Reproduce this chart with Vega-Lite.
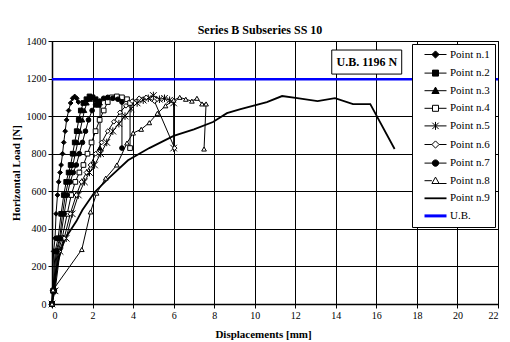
{
  "$schema": "https://vega.github.io/schema/vega-lite/v6.json",
  "width": 446,
  "height": 263,
  "autosize": {"type": "none"},
  "padding": {"left": 52, "top": 41, "right": 12, "bottom": 38},
  "background": "white",
  "title": {"text": "Series B Subseries SS 10", "font": "Liberation Serif", "fontSize": 12, "fontWeight": "bold", "color": "black", "offset": 6, "dy": 7, "dx": -15},
  "config": {
    "view": {"stroke": "black", "strokeWidth": 1},
    "axis": {"gridColor": "black", "gridOpacity": 1, "gridWidth": 1, "domainColor": "black", "domainWidth": 1.5, "tickColor": "black", "tickSize": 4, "labelColor": "black", "labelFont": "Liberation Serif", "labelFontSize": 10, "labelOverlap": false, "titleFont": "Liberation Serif", "titleFontSize": 11, "titleFontWeight": "bold", "titleColor": "black"},
    "legend": {
      "orient": "top-right", "offset": 3, "fillColor": "white", "strokeColor": "black", "padding": 5,
      "labelFont": "Liberation Serif", "labelFontSize": 11, "labelColor": "black",
      "symbolSize": 64, "rowPadding": 5.6, "symbolOffset": 13, "labelOffset": 9
    }
  },
  "data": {"values": [
    {"s":"Point n.1","i":0,"x":0,"y":0},{"s":"Point n.1","i":1,"x":0.02,"y":70},{"s":"Point n.1","i":2,"x":0.08,"y":280},{"s":"Point n.1","i":3,"x":0.15,"y":350},{"s":"Point n.1","i":4,"x":0.2,"y":480},{"s":"Point n.1","i":5,"x":0.27,"y":580},{"s":"Point n.1","i":6,"x":0.33,"y":650},{"s":"Point n.1","i":7,"x":0.4,"y":700},{"s":"Point n.1","i":8,"x":0.45,"y":740},{"s":"Point n.1","i":9,"x":0.52,"y":800},{"s":"Point n.1","i":10,"x":0.58,"y":860},{"s":"Point n.1","i":11,"x":0.65,"y":920},{"s":"Point n.1","i":12,"x":0.72,"y":980},{"s":"Point n.1","i":13,"x":0.82,"y":1030},{"s":"Point n.1","i":14,"x":0.92,"y":1070},{"s":"Point n.1","i":15,"x":1.02,"y":1095},{"s":"Point n.1","i":16,"x":1.12,"y":1105},{"s":"Point n.1","i":17,"x":1.22,"y":1095},{"s":"Point n.1","i":18,"x":1.3,"y":1075},
    {"s":"Point n.2","i":0,"x":0,"y":0},{"s":"Point n.2","i":1,"x":0.05,"y":70},{"s":"Point n.2","i":2,"x":0.15,"y":280},{"s":"Point n.2","i":3,"x":0.3,"y":350},{"s":"Point n.2","i":4,"x":0.45,"y":480},{"s":"Point n.2","i":5,"x":0.58,"y":580},{"s":"Point n.2","i":6,"x":0.7,"y":650},{"s":"Point n.2","i":7,"x":0.82,"y":700},{"s":"Point n.2","i":8,"x":0.92,"y":740},{"s":"Point n.2","i":9,"x":1.02,"y":800},{"s":"Point n.2","i":10,"x":1.12,"y":860},{"s":"Point n.2","i":11,"x":1.22,"y":920},{"s":"Point n.2","i":12,"x":1.32,"y":980},{"s":"Point n.2","i":13,"x":1.42,"y":1030},{"s":"Point n.2","i":14,"x":1.55,"y":1070},{"s":"Point n.2","i":15,"x":1.7,"y":1090},{"s":"Point n.2","i":16,"x":1.85,"y":1105},{"s":"Point n.2","i":17,"x":2.0,"y":1100},{"s":"Point n.2","i":18,"x":2.15,"y":1090},{"s":"Point n.2","i":19,"x":2.3,"y":1060},
    {"s":"Point n.3","i":0,"x":0,"y":0},{"s":"Point n.3","i":1,"x":0.07,"y":70},{"s":"Point n.3","i":2,"x":0.2,"y":280},{"s":"Point n.3","i":3,"x":0.38,"y":350},{"s":"Point n.3","i":4,"x":0.52,"y":480},{"s":"Point n.3","i":5,"x":0.66,"y":580},{"s":"Point n.3","i":6,"x":0.8,"y":650},{"s":"Point n.3","i":7,"x":0.92,"y":700},{"s":"Point n.3","i":8,"x":1.03,"y":740},{"s":"Point n.3","i":9,"x":1.15,"y":800},{"s":"Point n.3","i":10,"x":1.27,"y":860},{"s":"Point n.3","i":11,"x":1.38,"y":920},{"s":"Point n.3","i":12,"x":1.5,"y":980},{"s":"Point n.3","i":13,"x":1.6,"y":1030},{"s":"Point n.3","i":14,"x":1.72,"y":1070},{"s":"Point n.3","i":15,"x":1.88,"y":1090},{"s":"Point n.3","i":16,"x":2.05,"y":1100},{"s":"Point n.3","i":17,"x":2.2,"y":1085},{"s":"Point n.3","i":18,"x":2.37,"y":1070},{"s":"Point n.3","i":19,"x":2.37,"y":830},
    {"s":"Point n.4","i":0,"x":0,"y":0},{"s":"Point n.4","i":1,"x":0.1,"y":70},{"s":"Point n.4","i":2,"x":0.3,"y":280},{"s":"Point n.4","i":3,"x":0.5,"y":350},{"s":"Point n.4","i":4,"x":0.75,"y":480},{"s":"Point n.4","i":5,"x":0.95,"y":580},{"s":"Point n.4","i":6,"x":1.15,"y":650},{"s":"Point n.4","i":7,"x":1.35,"y":700},{"s":"Point n.4","i":8,"x":1.55,"y":740},{"s":"Point n.4","i":9,"x":1.75,"y":800},{"s":"Point n.4","i":10,"x":1.95,"y":860},{"s":"Point n.4","i":11,"x":2.15,"y":920},{"s":"Point n.4","i":12,"x":2.35,"y":980},{"s":"Point n.4","i":13,"x":2.55,"y":1030},{"s":"Point n.4","i":14,"x":2.75,"y":1075},{"s":"Point n.4","i":15,"x":2.95,"y":1100},{"s":"Point n.4","i":16,"x":3.2,"y":1105},{"s":"Point n.4","i":17,"x":3.45,"y":1100},{"s":"Point n.4","i":18,"x":3.7,"y":1090},{"s":"Point n.4","i":19,"x":3.85,"y":1070},{"s":"Point n.4","i":20,"x":3.85,"y":830},
    {"s":"Point n.5","i":0,"x":0,"y":0},{"s":"Point n.5","i":1,"x":0.15,"y":70},{"s":"Point n.5","i":2,"x":0.4,"y":280},{"s":"Point n.5","i":3,"x":0.7,"y":350},{"s":"Point n.5","i":4,"x":1.0,"y":480},{"s":"Point n.5","i":5,"x":1.3,"y":580},{"s":"Point n.5","i":6,"x":1.6,"y":650},{"s":"Point n.5","i":7,"x":1.85,"y":700},{"s":"Point n.5","i":8,"x":2.1,"y":740},{"s":"Point n.5","i":9,"x":2.4,"y":800},{"s":"Point n.5","i":10,"x":2.7,"y":860},{"s":"Point n.5","i":11,"x":3.0,"y":920},{"s":"Point n.5","i":12,"x":3.3,"y":960},{"s":"Point n.5","i":13,"x":3.6,"y":1000},{"s":"Point n.5","i":14,"x":3.9,"y":1040},{"s":"Point n.5","i":15,"x":4.2,"y":1070},{"s":"Point n.5","i":16,"x":4.5,"y":1085},{"s":"Point n.5","i":17,"x":4.75,"y":1095},{"s":"Point n.5","i":18,"x":5.0,"y":1110},{"s":"Point n.5","i":19,"x":5.3,"y":1090},{"s":"Point n.5","i":20,"x":5.55,"y":1095},{"s":"Point n.5","i":21,"x":5.8,"y":1085},{"s":"Point n.5","i":22,"x":6.0,"y":1070},{"s":"Point n.5","i":23,"x":6.0,"y":830},
    {"s":"Point n.6","i":0,"x":0,"y":0},{"s":"Point n.6","i":1,"x":0.12,"y":70},{"s":"Point n.6","i":2,"x":0.35,"y":280},{"s":"Point n.6","i":3,"x":0.6,"y":350},{"s":"Point n.6","i":4,"x":0.9,"y":480},{"s":"Point n.6","i":5,"x":1.2,"y":580},{"s":"Point n.6","i":6,"x":1.45,"y":650},{"s":"Point n.6","i":7,"x":1.7,"y":700},{"s":"Point n.6","i":8,"x":1.9,"y":740},{"s":"Point n.6","i":9,"x":2.15,"y":800},{"s":"Point n.6","i":10,"x":2.45,"y":860},{"s":"Point n.6","i":11,"x":2.75,"y":920},{"s":"Point n.6","i":12,"x":3.05,"y":970},{"s":"Point n.6","i":13,"x":3.35,"y":1020},{"s":"Point n.6","i":14,"x":3.65,"y":1055},{"s":"Point n.6","i":15,"x":3.95,"y":1080},{"s":"Point n.6","i":16,"x":4.3,"y":1095},{"s":"Point n.6","i":17,"x":4.65,"y":1100},{"s":"Point n.6","i":18,"x":5.05,"y":1080},{"s":"Point n.6","i":19,"x":6.05,"y":830},
    {"s":"Point n.7","i":0,"x":0,"y":0},{"s":"Point n.7","i":1,"x":0.1,"y":70},{"s":"Point n.7","i":2,"x":0.25,"y":280},{"s":"Point n.7","i":3,"x":0.42,"y":350},{"s":"Point n.7","i":4,"x":0.6,"y":480},{"s":"Point n.7","i":5,"x":0.75,"y":580},{"s":"Point n.7","i":6,"x":0.9,"y":650},{"s":"Point n.7","i":7,"x":1.05,"y":700},{"s":"Point n.7","i":8,"x":1.2,"y":740},{"s":"Point n.7","i":9,"x":1.35,"y":800},{"s":"Point n.7","i":10,"x":1.5,"y":860},{"s":"Point n.7","i":11,"x":1.65,"y":920},{"s":"Point n.7","i":12,"x":1.8,"y":980},{"s":"Point n.7","i":13,"x":1.98,"y":1030},{"s":"Point n.7","i":14,"x":2.15,"y":1060},{"s":"Point n.7","i":15,"x":2.35,"y":1080},{"s":"Point n.7","i":16,"x":2.55,"y":1095},{"s":"Point n.7","i":17,"x":2.75,"y":1100},{"s":"Point n.7","i":18,"x":3.0,"y":1095},{"s":"Point n.7","i":19,"x":3.25,"y":1090},{"s":"Point n.7","i":20,"x":3.45,"y":1075},{"s":"Point n.7","i":21,"x":3.45,"y":830},
    {"s":"Point n.8","i":0,"x":0,"y":0},{"s":"Point n.8","i":1,"x":0.05,"y":75},{"s":"Point n.8","i":2,"x":1.47,"y":290},{"s":"Point n.8","i":3,"x":1.9,"y":490},{"s":"Point n.8","i":4,"x":2.2,"y":590},{"s":"Point n.8","i":5,"x":2.65,"y":670},{"s":"Point n.8","i":6,"x":3.2,"y":740},{"s":"Point n.8","i":7,"x":3.7,"y":857},{"s":"Point n.8","i":8,"x":4.0,"y":910},{"s":"Point n.8","i":9,"x":4.4,"y":930},{"s":"Point n.8","i":10,"x":4.8,"y":965},{"s":"Point n.8","i":11,"x":5.2,"y":1015},{"s":"Point n.8","i":12,"x":5.6,"y":1055},{"s":"Point n.8","i":13,"x":6.0,"y":1085},{"s":"Point n.8","i":14,"x":6.3,"y":1100},{"s":"Point n.8","i":15,"x":6.6,"y":1090},{"s":"Point n.8","i":16,"x":6.9,"y":1080},{"s":"Point n.8","i":17,"x":7.15,"y":1095},{"s":"Point n.8","i":18,"x":7.4,"y":1065},{"s":"Point n.8","i":19,"x":7.6,"y":1065},{"s":"Point n.8","i":20,"x":7.5,"y":825},
    {"s":"Point n.9","i":0,"x":0,"y":0},{"s":"Point n.9","i":1,"x":0.05,"y":75},{"s":"Point n.9","i":2,"x":0.3,"y":230},{"s":"Point n.9","i":3,"x":0.6,"y":340},{"s":"Point n.9","i":4,"x":1.2,"y":440},{"s":"Point n.9","i":5,"x":1.5,"y":500},{"s":"Point n.9","i":6,"x":2.1,"y":595},{"s":"Point n.9","i":7,"x":2.8,"y":670},{"s":"Point n.9","i":8,"x":3.75,"y":765},{"s":"Point n.9","i":9,"x":4.8,"y":830},{"s":"Point n.9","i":10,"x":6.0,"y":895},{"s":"Point n.9","i":11,"x":7.0,"y":930},{"s":"Point n.9","i":12,"x":7.94,"y":969},{"s":"Point n.9","i":13,"x":8.63,"y":1016},{"s":"Point n.9","i":14,"x":9.3,"y":1037},{"s":"Point n.9","i":15,"x":10.6,"y":1075},{"s":"Point n.9","i":16,"x":11.35,"y":1107},{"s":"Point n.9","i":17,"x":12.1,"y":1096},{"s":"Point n.9","i":18,"x":13.1,"y":1080},{"s":"Point n.9","i":19,"x":13.96,"y":1096},{"s":"Point n.9","i":20,"x":14.85,"y":1064},{"s":"Point n.9","i":21,"x":15.7,"y":1064},{"s":"Point n.9","i":22,"x":16.9,"y":825},
    {"s":"U.B.","i":0,"x":0,"y":1196},{"s":"U.B.","i":1,"x":22,"y":1196}
  ]},
  "layer": [
    {
      "transform": [{"filter": {"field": "s", "oneOf": ["Point n.1","Point n.2","Point n.3","Point n.4","Point n.5","Point n.6","Point n.7","Point n.8"]}}],
      "mark": {"type": "line", "strokeWidth": 1},
      "encoding": {
        "x": {"field": "x", "type": "quantitative", "scale": {"domain": [0, 22], "nice": false}, "axis": {"values": [0,2,4,6,8,10,12,14,16,18,20,22], "title": "Displacements [mm]", "titleX": 211, "labelPadding": 2, "titlePadding": 8}},
        "y": {"field": "y", "type": "quantitative", "scale": {"domain": [0, 1400], "nice": false}, "axis": {"values": [0,200,400,600,800,1000,1200,1400], "tickCount": 8, "format": "d", "title": "Horizontal Load [N]", "labelPadding": 2, "titlePadding": 5}},
        "order": {"field": "i", "type": "quantitative"},
        "color": {
          "field": "s", "type": "nominal",
          "scale": {"domain": ["Point n.1","Point n.2","Point n.3","Point n.4","Point n.5","Point n.6","Point n.7","Point n.8","Point n.9","U.B."], "range": ["black","black","black","black","black","black","black","black","black","#0000ff"]},
          "legend": {
            "title": null,
            "encode": {"symbols": {
              "enter": {
                "strokeWidth": {"signal": "datum.index == 9 ? 3 : (datum.index == 8 ? 1.8 : 1)"}
              },
              "update": {
              "shape": {"signal": "['M-2.75,0L2.75,0M-0.9,0L0,-0.9L0.9,0L0,0.9Z','M-2.75,0L2.75,0M-0.75,-0.75L0.75,-0.75L0.75,0.75L-0.75,0.75Z','M-2.75,0L2.75,0M0,-0.9L0.9,0.7L-0.9,0.7Z','M-2.75,0L-0.75,0M0.75,0L2.75,0M-0.75,-0.75L0.75,-0.75L0.75,0.75L-0.75,0.75Z','M-2.75,0L2.75,0M-0.8,-0.8L0.8,0.8M-0.8,0.8L0.8,-0.8M0,-1L0,1','M-2.75,0L-0.9,0M0.9,0L2.75,0M-0.9,0L0,-0.9L0.9,0L0,0.9Z','M-2.75,0L2.75,0M0.8,0A0.8,0.8,0,1,1,-0.8,0A0.8,0.8,0,1,1,0.8,0Z','M-2.75,0L-0.9,0M0.9,0.7L2.75,0.7M0,-0.9L0.9,0.7L-0.9,0.7Z','M-2.75,0L2.75,0','M-2.75,0L2.75,0'][datum.index]"},
              "fill": {"signal": "['black','black','black','white','white','white','black','white','transparent','transparent'][datum.index]"},
              "stroke": {"signal": "datum.index == 9 ? '#0000ff' : 'black'"},
              "strokeWidth": {"signal": "datum.index == 9 ? 3 : (datum.index == 8 ? 1.8 : 1)"},
              "opacity": {"value": 1}
            }}}
          }
        }
      }
    },
    {
      "transform": [{"filter": {"field": "s", "equal": "Point n.9"}}],
      "mark": {"type": "line", "strokeWidth": 1.8, "color": "black"},
      "encoding": {
        "x": {"field": "x", "type": "quantitative"},
        "y": {"field": "y", "type": "quantitative"},
        "order": {"field": "i", "type": "quantitative"}
      }
    },
    {
      "transform": [{"filter": {"field": "s", "equal": "U.B."}}],
      "mark": {"type": "line", "strokeWidth": 2.5, "color": "#0000ff"},
      "encoding": {
        "x": {"field": "x", "type": "quantitative"},
        "y": {"field": "y", "type": "quantitative"},
        "order": {"field": "i", "type": "quantitative"}
      }
    },
    {
      "transform": [{"filter": {"field": "s", "oneOf": ["Point n.1","Point n.2","Point n.3","Point n.4","Point n.5","Point n.6","Point n.7","Point n.8"]}}],
      "mark": {"type": "point", "stroke": "black", "strokeWidth": 1, "opacity": 1, "size": 22},
      "encoding": {
        "x": {"field": "x", "type": "quantitative"},
        "y": {"field": "y", "type": "quantitative"},
        "shape": {
          "field": "s", "type": "nominal",
          "scale": {"domain": ["Point n.1","Point n.2","Point n.3","Point n.4","Point n.5","Point n.6","Point n.7","Point n.8"], "range": ["diamond","square","triangle-up","square","M-1.4,-1.4L1.4,1.4M-1.4,1.4L1.4,-1.4M0,-1.6L0,1.6","diamond","circle","triangle-up"]},
          "legend": null
        },
        "fill": {
          "field": "s", "type": "nominal",
          "scale": {"domain": ["Point n.1","Point n.2","Point n.3","Point n.4","Point n.5","Point n.6","Point n.7","Point n.8"], "range": ["black","black","black","white","white","white","black","white"]},
          "legend": null
        }
      }
    },
    {
      "data": {"values": [{"label": "U.B. 1196 N"}]},
      "mark": {"type": "rect", "fill": "white", "stroke": "black", "strokeWidth": 1},
      "encoding": {"x": {"datum": 13.8}, "x2": {"datum": 17.25}, "y": {"datum": 1224}, "y2": {"datum": 1352}}
    },
    {
      "data": {"values": [{"label": "U.B. 1196 N"}]},
      "mark": {"type": "text", "font": "Liberation Serif", "fontSize": 12, "fontWeight": "bold", "fill": "black"},
      "encoding": {"x": {"datum": 15.53}, "y": {"datum": 1288}, "text": {"field": "label"}}
    }
  ]
}
